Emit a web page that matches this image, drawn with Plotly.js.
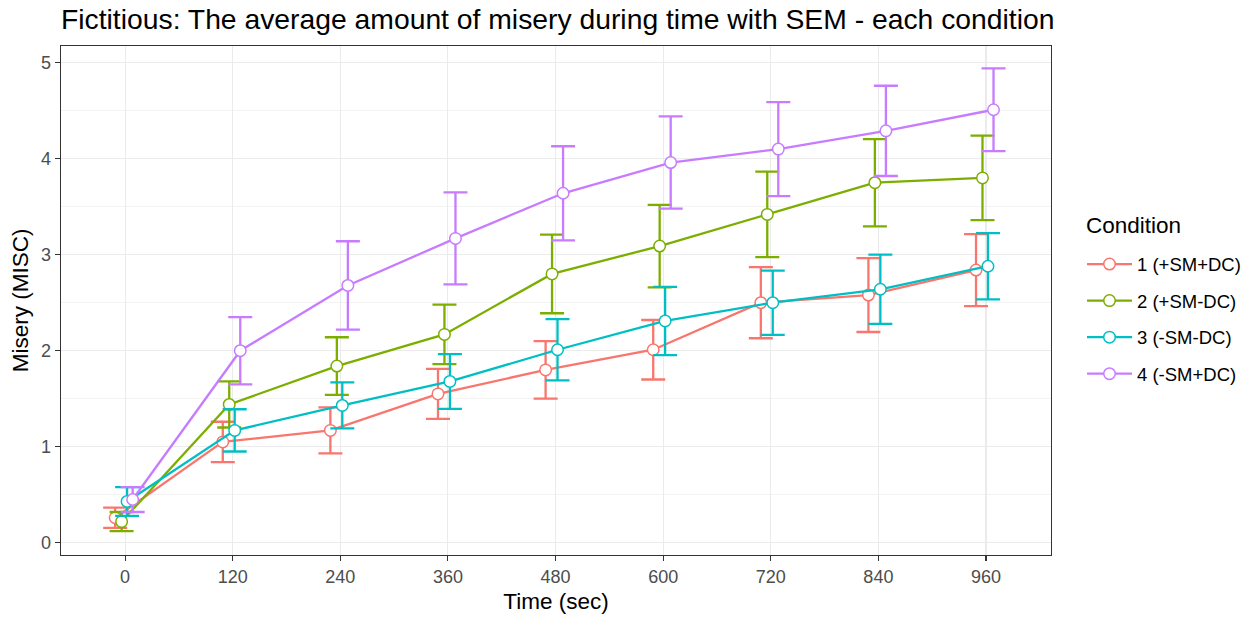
<!DOCTYPE html>
<html>
<head>
<meta charset="utf-8">
<script src="https://cdn.plot.ly/plotly-3.0.1.min.js"></script>
<style>html,body{margin:0;padding:0;background:#fff}#chart{width:1248px;height:620px}</style>
</head>
<body>
<div id="chart"></div>
<script>
// ---- data ----
const times = [0, 120, 240, 360, 480, 600, 720, 840, 960];
const conditions = ["1 (+SM+DC)", "2 (+SM-DC)", "3 (-SM-DC)", "4 (-SM+DC)"];
const mean1 = [0.26, 1.05, 1.17, 1.55, 1.80, 2.01, 2.50, 2.58, 2.84];
const sem1  = [0.105, 0.21, 0.24, 0.26, 0.30, 0.31, 0.37, 0.385, 0.375];
const mean2 = [0.22, 1.44, 1.84, 2.17, 2.80, 3.09, 3.42, 3.75, 3.80];
const sem2  = [0.10, 0.24, 0.30, 0.31, 0.41, 0.43, 0.445, 0.455, 0.44];
const mean3 = [0.43, 1.17, 1.43, 1.68, 2.01, 2.31, 2.50, 2.64, 2.88];
const sem3  = [0.15, 0.22, 0.24, 0.285, 0.32, 0.355, 0.335, 0.36, 0.345];
const mean4 = [0.45, 2.00, 2.68, 3.17, 3.64, 3.96, 4.10, 4.29, 4.51];
const sem4  = [0.13, 0.35, 0.46, 0.48, 0.49, 0.48, 0.49, 0.47, 0.43];
const xTickLabels = ["0", "120", "240", "360", "480", "600", "720", "840", "960"];

// ---- style ----
const colors = ["#F8766D", "#7CAE00", "#00BFC4", "#C77CFF"];
const dodge = [-11.1, -3.9, 2.2, 8.4]; // seconds, position_dodge look
const means = [mean1, mean2, mean3, mean4];
const sems = [sem1, sem2, sem3, sem4];
const FONT = '"Liberation Sans", Arial, sans-serif';

const traces = conditions.map((name, i) => ({
  type: 'scatter',
  mode: 'lines+markers',
  name: name,
  legendgroup: 'g' + i,
  x: times.map(t => t + dodge[i]),
  y: means[i],
  line: {color: colors[i], width: 2.3},
  marker: {symbol: 'circle', size: 11.5, color: '#ffffff', line: {color: colors[i], width: 1.5}},
  error_y: {type: 'data', array: sems[i], visible: true, color: colors[i], thickness: 2.3, width: 12},
  hoverinfo: 'x+y+name'
}));

const layout = {
  width: 1248, height: 620,
  paper_bgcolor: '#ffffff', plot_bgcolor: '#ffffff',
  margin: {l: 61, r: 197, t: 46, b: 65, autoexpand: false},
  font: {family: FONT, color: '#000000'},
  title: {
    text: 'Fictitious: The average amount of misery during time with SEM - each condition',
    font: {family: FONT, size: 28.3, color: '#000000'},
    x: 0, xref: 'paper', xanchor: 'left',
    y: 1 - 19 / 620, yref: 'container', yanchor: 'middle'
  },
  xaxis: {
    range: [-71.5, 1032.5],
    tickvals: times, ticktext: xTickLabels,
    showgrid: true, gridcolor: '#EBEBEB', gridwidth: 1.1,
    zeroline: false,
    showline: true, linecolor: '#333333', linewidth: 1.3, mirror: true,
    ticks: 'outside', ticklen: 5, tickcolor: '#333333', tickwidth: 1.1,
    tickfont: {family: FONT, size: 18, color: '#4D4D4D'},
    title: {text: 'Time (sec)', font: {family: FONT, size: 22.5, color: '#000000'}, standoff: 7}
  },
  yaxis: {
    range: [-0.128, 5.174],
    tickvals: [0, 1, 2, 3, 4, 5],
    showgrid: true, gridcolor: '#EBEBEB', gridwidth: 1.1,
    minor: {dtick: 0.5, showgrid: true, gridcolor: '#EBEBEB', gridwidth: 0.6, ticks: ''},
    zeroline: false,
    showline: true, linecolor: '#333333', linewidth: 1.3, mirror: true,
    ticks: 'outside', ticklen: 5, tickcolor: '#333333', tickwidth: 1.1,
    tickfont: {family: FONT, size: 18, color: '#4D4D4D'},
    title: {text: 'Misery (MISC)', font: {family: FONT, size: 22.5, color: '#000000'}, standoff: 6}
  },
  legend: {
    x: (1082 - 61) / 990, xanchor: 'left', y: 0.608, yanchor: 'top',
    bgcolor: 'rgba(0,0,0,0)', borderwidth: 0,
    font: {family: FONT, size: 18.5, color: '#000000'},
    tracegroupgap: 9.5,
    itemwidth: 45,
    traceorder: 'grouped'
  },
  annotations: [{
    text: 'Condition', xref: 'paper', yref: 'paper',
    x: (1084 - 61) / 990, xanchor: 'left',
    y: (555 - 225) / 509, yanchor: 'middle',
    showarrow: false,
    font: {family: FONT, size: 22.5, color: '#000000'}
  }],
  showlegend: true
};

Plotly.newPlot('chart', traces, layout, {displayModeBar: false, staticPlot: true});
</script>
</body>
</html>
